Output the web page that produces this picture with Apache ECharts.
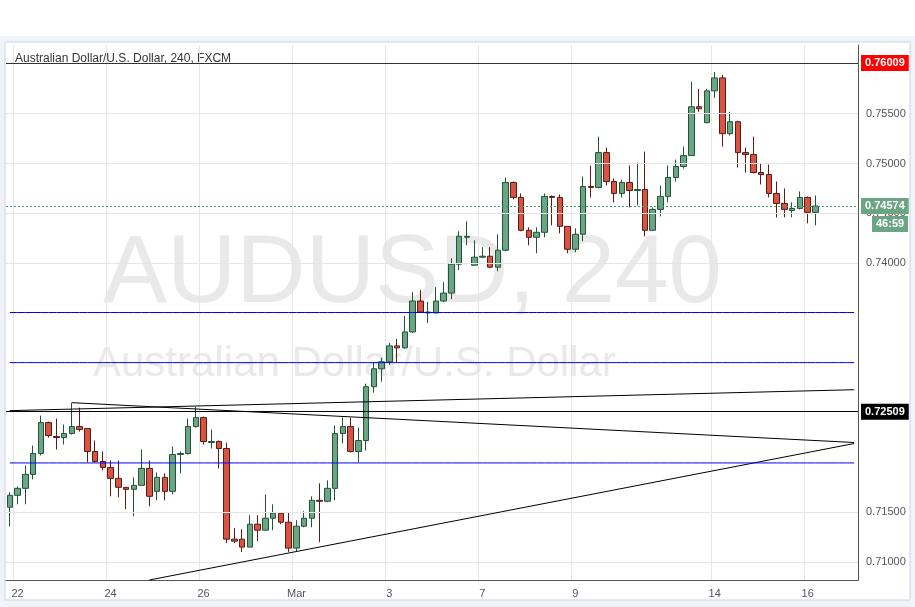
<!DOCTYPE html>
<html><head><meta charset="utf-8">
<script src="https://cdn.jsdelivr.net/npm/echarts@6/dist/echarts.min.js"></script>
<style>html,body{margin:0;padding:0;background:#f0f3fa;}#c{width:915px;height:607px;}</style>
</head><body><div id="c"></div>
<script>
// OHLC per 240-min candle
const opens  = [.7155,.7167,.7174,.7188,.7209,.7240,.7226,.7225,.7229,.7236,.7234,.7211,.7201,.7195,.7184,.7175,.7173,.7177,.7194,.7171,.7185,.7171,.7208,.7209,.7236,.7245,.7220,.7221,.7214,.7123,.7123,.7115,.7138,.7132,.7144,.7149,.7140,.7114,.7136,.7144,.7162,.7161,.7174,.7229,.7236,.7211,.7222,.7276,.7294,.7301,.7317,.7315,.7331,.7362,.7350,.7350,.7362,.7370,.7399,.7426,.7398,.7406,.7407,.7396,.7413,.7481,.7466,.7433,.7426,.7431,.7467,.7466,.7437,.7414,.7429,.7477,.7476,.7511,.7482,.7470,.7481,.7473,.7474,.7433,.7454,.7467,.7486,.7497,.7508,.7557,.7541,.7573,.7586,.7530,.7542,.7511,.7509,.7491,.7489,.7470,.7460,.7453,.7455,.7466,.7451];
const closes = [.7167,.7174,.7188,.7209,.7240,.7227,.7225,.7229,.7236,.7233,.7211,.7201,.7195,.7184,.7175,.7173,.7177,.7194,.7166,.7185,.7171,.7208,.7209,.7236,.7245,.7221,.7221,.7214,.7123,.7121,.7115,.7138,.7132,.7144,.7149,.7140,.7114,.7136,.7144,.7162,.7161,.7174,.7229,.7236,.7211,.7222,.7276,.7294,.7301,.7317,.7315,.7331,.7362,.7351,.7351,.7362,.7370,.7399,.7427,.7427,.7406,.7407,.7396,.7413,.7481,.7466,.7433,.7426,.7431,.7467,.7466,.7437,.7414,.7429,.7477,.7476,.7511,.7482,.7470,.7481,.7473,.7474,.7433,.7454,.7467,.7486,.7497,.7508,.7557,.7555,.7573,.7586,.7530,.7542,.7511,.7509,.7491,.7489,.7470,.7460,.7454,.7455,.7466,.7451,.74574];
const lows   = [.7136,.7158,.7158,.7183,.7207,.7225,.7213,.7218,.7228,.7231,.7200,.7200,.7192,.7166,.7165,.7153,.7146,.7177,.7156,.7162,.7162,.7168,.7189,.7208,.7235,.7218,.7214,.7194,.7119,.7119,.7110,.7115,.7121,.7132,.7132,.7138,.7110,.7111,.7135,.7135,.7120,.7160,.7162,.7219,.7210,.7200,.7212,.7270,.7281,.7298,.7300,.7314,.7330,.7350,.7340,.7350,.7361,.7364,.7393,.7418,.7398,.7405,.7395,.7392,.7412,.7464,.7432,.7418,.7410,.7426,.7438,.7430,.7410,.7411,.7422,.7466,.7475,.7478,.7461,.7466,.7456,.7458,.7427,.7433,.7447,.7461,.7482,.7495,.7508,.7552,.7541,.7566,.7517,.7528,.7496,.7491,.7490,.7479,.7466,.7446,.7446,.7446,.7454,.7440,.7438];
const highs  = [.7170,.7176,.7197,.7217,.7247,.7241,.7244,.7238,.7260,.7255,.7234,.7222,.7211,.7202,.7202,.7175,.7185,.7213,.7202,.7190,.7189,.7216,.7211,.7244,.7256,.7246,.7233,.7222,.7220,.7134,.7133,.7147,.7147,.7168,.7158,.7149,.7150,.7142,.7151,.7166,.7179,.7182,.7237,.7245,.7245,.7235,.7279,.7301,.7305,.7320,.7324,.7347,.7371,.7373,.7361,.7376,.7381,.7405,.7432,.7442,.7423,.7416,.7416,.7429,.7486,.7482,.7470,.7436,.7436,.7470,.7468,.7469,.7437,.7435,.7487,.7498,.7527,.7516,.7485,.7484,.7498,.7501,.7512,.7456,.7478,.7498,.7504,.7517,.7582,.7575,.7575,.7592,.7589,.7552,.7543,.7516,.7527,.7500,.7499,.7482,.7475,.7461,.7472,.7467,.7468];
const dateLabels = {1:'22',13:'24',25:'26',37:'Mar',49:'3',61:'7',73:'9',91:'14',103:'16'};
const padCount = 5;
const tickValues = [0.71000,0.71500,0.74000,0.74500,0.75000,0.75500];
const blueLevels = [0.73505,0.73002,0.71995];
const blackLevel = 0.72509;
const redLevel = 0.76009;
const lastPrice = 0.74574;
const trendLines = [[[0,0.7252],[109,0.7273]],[[8,0.7260],[109,0.7220]],[[17.8,0.7082],[109,0.7219]]];

const n = opens.length + padCount;
const cats = []; for (let i=0;i<n;i++) cats.push(dateLabels[i]||('c'+i));
const kData = opens.map((o,i)=>[o,closes[i],lows[i],highs[i]]);

const boxLabel = (v,bg)=>({show:true,position:'end',formatter:v.toFixed(5),color:'#fff',backgroundColor:bg,padding:[3,4,2,4],fontSize:11,fontWeight:'bold',fontFamily:'Liberation Sans',distance:3});
const gridMarks = tickValues.map(v=>({yAxis:v,label:{show:true,position:'end',formatter:v.toFixed(5),color:'#555',fontSize:11,fontFamily:'Liberation Sans',distance:8}}));
const levelSeries = (v,lineColor,bg,type)=>{
  const st={color:lineColor,type:type||'solid',width:1};
  return {type:'line',data:[],z:4,markLine:{silent:true,symbol:'none',precision:5,animation:false,
    lineStyle:st,data:[{yAxis:v,lineStyle:st,label:boxLabel(v,bg)}]}};
};
// blue levels: drawn as flat line series across all categories, label via markLine with no visible line
const blueSeries = v=>({type:'line',data:cats.map(()=>v),z:6,symbol:'none',silent:true,
  lineStyle:{color:'#0000ff',width:1},itemStyle:{color:'#0000ff'},
  markLine:{silent:true,symbol:'none',precision:5,animation:false,lineStyle:{color:'#0000ff',width:0,opacity:0},
    data:[{yAxis:v,label:boxLabel(v,'#0000ff')}]}});
const ls = {color:'#000',type:'solid',width:1};
const trendMarks = trendLines.map(t=>[{coord:[t[0][0],t[0][1]]},{coord:[t[1][0],t[1][1]]}]);

const series = [
  {type:'line',data:[],z:1,markLine:{silent:true,symbol:'none',precision:5,animation:false,lineStyle:{color:'#e6e6e6',type:'solid',width:1},data:gridMarks}},
  {type:'line',data:[],z:2,markLine:{silent:true,symbol:'none',precision:5,animation:false,lineStyle:ls,label:{show:false},data:trendMarks}}
];
series.push(levelSeries(blackLevel,'#000000','#000'));
series.push(levelSeries(redLevel,'#333333','#ff0000'));
series.push(levelSeries(lastPrice,'#3d9a5e','#6ba583',[2,2]));
blueLevels.forEach(v=>series.push(blueSeries(v)));
series.push({type:'candlestick',data:kData,barWidth:6,z:3,
  itemStyle:{color:'#6ba583',color0:'#d75442',borderColor:'#225437',borderColor0:'#5b1a13',borderWidth:1}});

const chart = echarts.init(document.getElementById('c'));
chart.setOption({
  animation:false,
  backgroundColor:'#f0f3fa',
  graphic:[
    {type:'rect',z:-10,shape:{x:0,y:0,width:915,height:36},style:{fill:'#fff'}},
    {type:'rect',z:-10,shape:{x:5,y:42,width:905,height:558},style:{fill:'#fff',stroke:'#cfd3db'}},
    {type:'text',z:-5,left:103,top:228,style:{text:'AUDUSD, 240',font:'96px "Liberation Sans", Arial, sans-serif',fill:'#e9e9e9'}},
    {type:'text',z:-5,top:343,left:93,style:{text:'Australian Dollar/U.S. Dollar',font:'42px "Liberation Sans", Arial, sans-serif',fill:'#e9e9e9'}},
    {type:'text',left:15,top:53,style:{text:'Australian Dollar/U.S. Dollar, 240, FXCM',font:'12px "Liberation Sans", Arial, sans-serif',fill:'#333'}},
    {type:'rect',shape:{x:872,y:216,width:36,height:16},style:{fill:'#6ba583'}},
    {type:'text',left:876,top:218,style:{text:'46:59',font:'bold 11px "Liberation Sans", Arial, sans-serif',fill:'#fff'}}
  ],
  grid:{left:6,right:57,top:45,bottom:27},
  xAxis:{type:'category',data:cats,boundaryGap:true,
    axisLine:{lineStyle:{color:'#555'}},
    axisTick:{alignWithLabel:true,interval:(i,v)=>!v.startsWith('c'),lineStyle:{color:'#555'}},
    axisLabel:{interval:(i,v)=>!v.startsWith('c'),color:'#555',fontSize:11,fontFamily:'Liberation Sans'},
    splitLine:{show:true,interval:(i,v)=>!v.startsWith('c'),lineStyle:{color:'#e6e6e6'}}},
  yAxis:{type:'value',position:'right',min:0.7082,max:0.7619,scale:true,
    axisLine:{show:true,lineStyle:{color:'#555'}},axisTick:{show:false},axisLabel:{show:false},splitLine:{show:false}},
  series:series
});
</script></body></html>
